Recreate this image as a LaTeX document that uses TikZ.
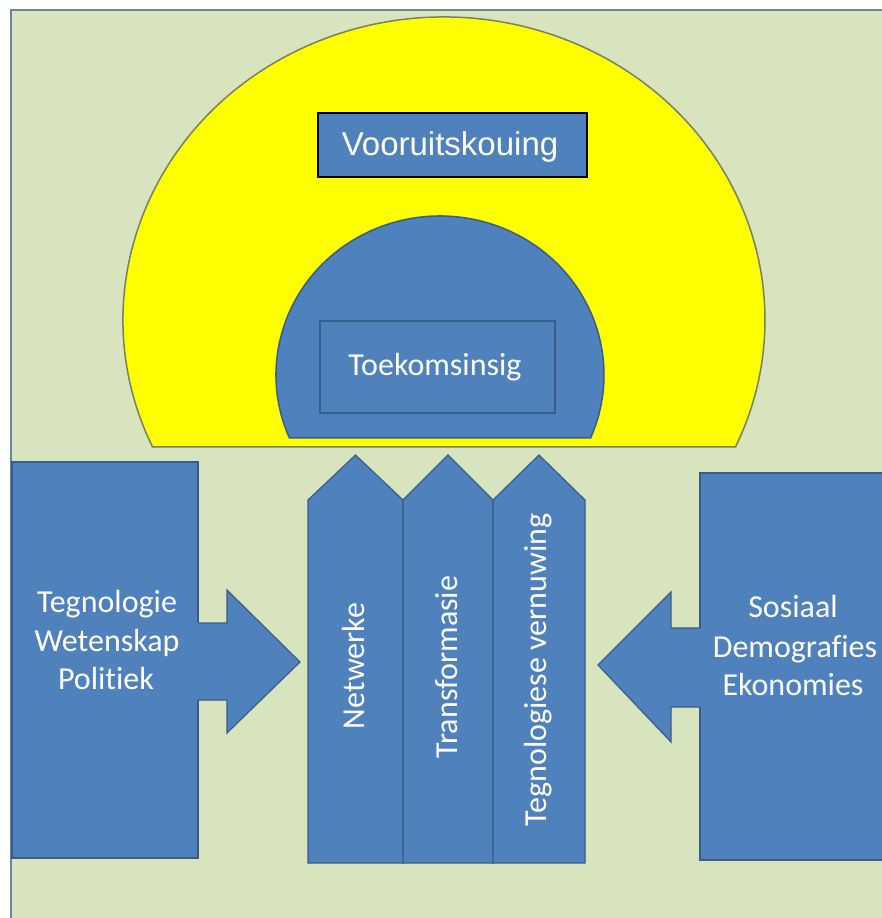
\documentclass[tikz,border=0pt]{standalone}
\usepackage{fontspec}
\setmainfont{Carlito}
\newfontfamily\arialfont{Liberation Sans}
\newfontfamily\calfont[Ligatures={NoCommon}]{Carlito}
\definecolor{bggreen}{RGB}{215,228,189}
\definecolor{framecol}{RGB}{110,135,150}
\definecolor{boxblue}{RGB}{79,129,189}
\definecolor{blueline}{RGB}{56,93,138}
\definecolor{domeline}{RGB}{120,128,100}
\definecolor{domeyellow}{RGB}{255,255,0}
\begin{document}
\begin{tikzpicture}[x=1pt,y=1pt,
  bluebox/.style={fill=boxblue, draw=blueline, line width=1.2pt, line join=miter},
  bluefill/.style={fill=boxblue},
  blueedge/.style={draw=blueline, line width=1.2pt, line join=miter},
  lbl/.style={text=white, inner sep=0pt, font=\calfont\fontsize{32}{38}\selectfont},
  vlbl/.style={lbl, rotate=90, anchor=center}]
\useasboundingbox (0,0) rectangle (882,-918);
\clip (0,0) rectangle (882,-918);
\fill[white] (0,0) rectangle (882,-918);
% frame
\draw[fill=bggreen, draw=framecol, line width=2.2pt] (11,-10) rectangle (900,-940);
% outer yellow dome
\draw[fill=domeyellow, draw=domeline, line width=1.5pt]
  (444,-320) ++(204.78:321pt and 303pt)
  arc[start angle=204.78, end angle=-24.78, x radius=321pt, y radius=303pt] -- cycle;
% inner blue dome
\draw[fill=boxblue, draw=blueline, line width=1.5pt]
  (440,-375) ++(203.34:164pt and 159pt)
  arc[start angle=203.34, end angle=-23.34, x radius=164pt, y radius=159pt] -- cycle;
% Vooruitskouing box
\draw[fill=boxblue, draw=black, line width=2.6pt] (318,-113) rectangle (587,-177);
\node[text=white, inner sep=0pt, anchor=base, font=\arialfont\fontsize{33}{38}\selectfont]
  (voor) at (450,-155) {Vooruitskouing};
% Toekomsinsig box
\draw[bluebox] (320,-321) rectangle (555,-413);
\node[lbl, anchor=base] (toek) at (435,-375) {Toekomsinsig};
% left box and arrow
\draw[bluebox] (12,-462) rectangle (198,-858);
\fill[bluefill] (196,-623) -- (227,-623) -- (227,-590) -- (300,-662) -- (227,-733) -- (227,-700) -- (196,-700) -- cycle;
\draw[blueedge] (198,-623) -- (227,-623) -- (227,-590) -- (300,-662) -- (227,-733) -- (227,-700) -- (198,-700);
\node[lbl, anchor=base] (l1) at (107,-612) {Tegnologie};
\node[lbl, anchor=base] (l2) at (107,-651) {Wetenskap};
\node[lbl, anchor=base] (l3) at (106,-689) {Politiek};
% right box and arrow
\draw[bluebox] (700,-473) rectangle (900,-860);
\fill[bluefill] (702,-628) -- (671,-628) -- (671,-592) -- (598,-665) -- (671,-742) -- (671,-707) -- (702,-707) -- cycle;
\draw[blueedge] (700,-628) -- (671,-628) -- (671,-592) -- (598,-665) -- (671,-742) -- (671,-707) -- (700,-707);
\node[lbl, anchor=base] (r1) at (793,-617) {Sosiaal};
\node[lbl, anchor=base] (r2) at (795,-657) {Demografies};
\node[lbl, anchor=base] (r3) at (793,-695) {Ekonomies};
% up arrows
\draw[bluebox] (308,-863) -- (308,-500) -- (355.5,-455) -- (403,-500) -- (403,-863) -- cycle;
\draw[bluebox] (403,-863) -- (403,-500) -- (448,-455) -- (493,-500) -- (493,-863) -- cycle;
\draw[bluebox] (493,-863) -- (493,-500) -- (539,-455) -- (585,-500) -- (585,-863) -- cycle;
\node[vlbl] (n1) at (354,-666) {Netwerke};
\node[vlbl] (n2) at (447,-667) {Transformasie};
\node[vlbl] (n3) at (538,-670) {Tegnologiese vernuwing};
\end{tikzpicture}
\end{document}
